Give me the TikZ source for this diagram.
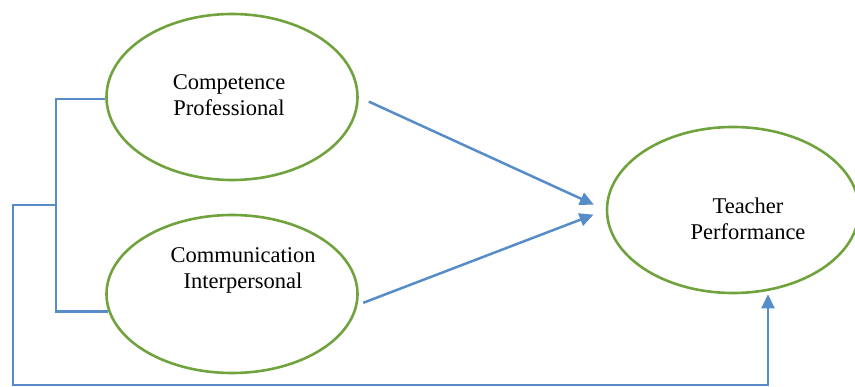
\documentclass[tikz,border=0pt]{standalone}
\usepackage{fontspec}
\setmainfont{Liberation Serif}
\usetikzlibrary{shapes,arrows.meta,positioning,calc}
\definecolor{linkblue}{RGB}{86,140,200}
\definecolor{factorgreen}{RGB}{112,163,62}
\tikzset{
  factor/.style={
    ellipse,
    draw=factorgreen, line width=2.6pt,
    inner sep=0pt
  },
  link/.style={
    draw=linkblue, line width=2.5pt
  },
  lbl/.style={
    font=\fontsize{22.5}{26}\selectfont,
    align=center, inner sep=0pt
  },
}
\begin{document}
\begin{tikzpicture}[x=1pt,y=-1pt,>={Triangle[length=14pt,width=13pt]},line join=miter]
\useasboundingbox (0,0) rectangle (855,387);

\node[factor, minimum width=251pt, minimum height=166pt] (CP) at (232,97) {};
\node[factor, minimum width=251pt, minimum height=158pt] (CI) at (232,294) {};
\node[factor, minimum width=252pt, minimum height=166pt] (TP) at (733,210) {};

\node[lbl] (CPTEXT) at ($(CP)+(-3,-2)$) {Competence\\Professional};
\node[lbl] (CITEXT) at ($(CI)+(11,-24)$) {Communication\\Interpersonal};
\node[lbl] (TPTEXT) at ($(TP)+(15,9)$) {Teacher\\Performance};

\coordinate (SPLIT) at (56,205);
\coordinate (LOOP) at (13,385);
\coordinate (FEED) at (768,385);

% bracket joining the two factors
\draw [link] (CP.181) -| (SPLIT) |- (CI.188);
\draw [link, ->] (SPLIT) -| (LOOP) -- (FEED) -- (FEED |- TP.south);

\draw [link, ->, shorten <=11pt, shorten >=13pt] (CP.east) -- (TP.west);
\draw [link, ->, shorten <=6pt, shorten >=13pt] (CI.-5) -- (TP.west);
\end{tikzpicture}
\end{document}
